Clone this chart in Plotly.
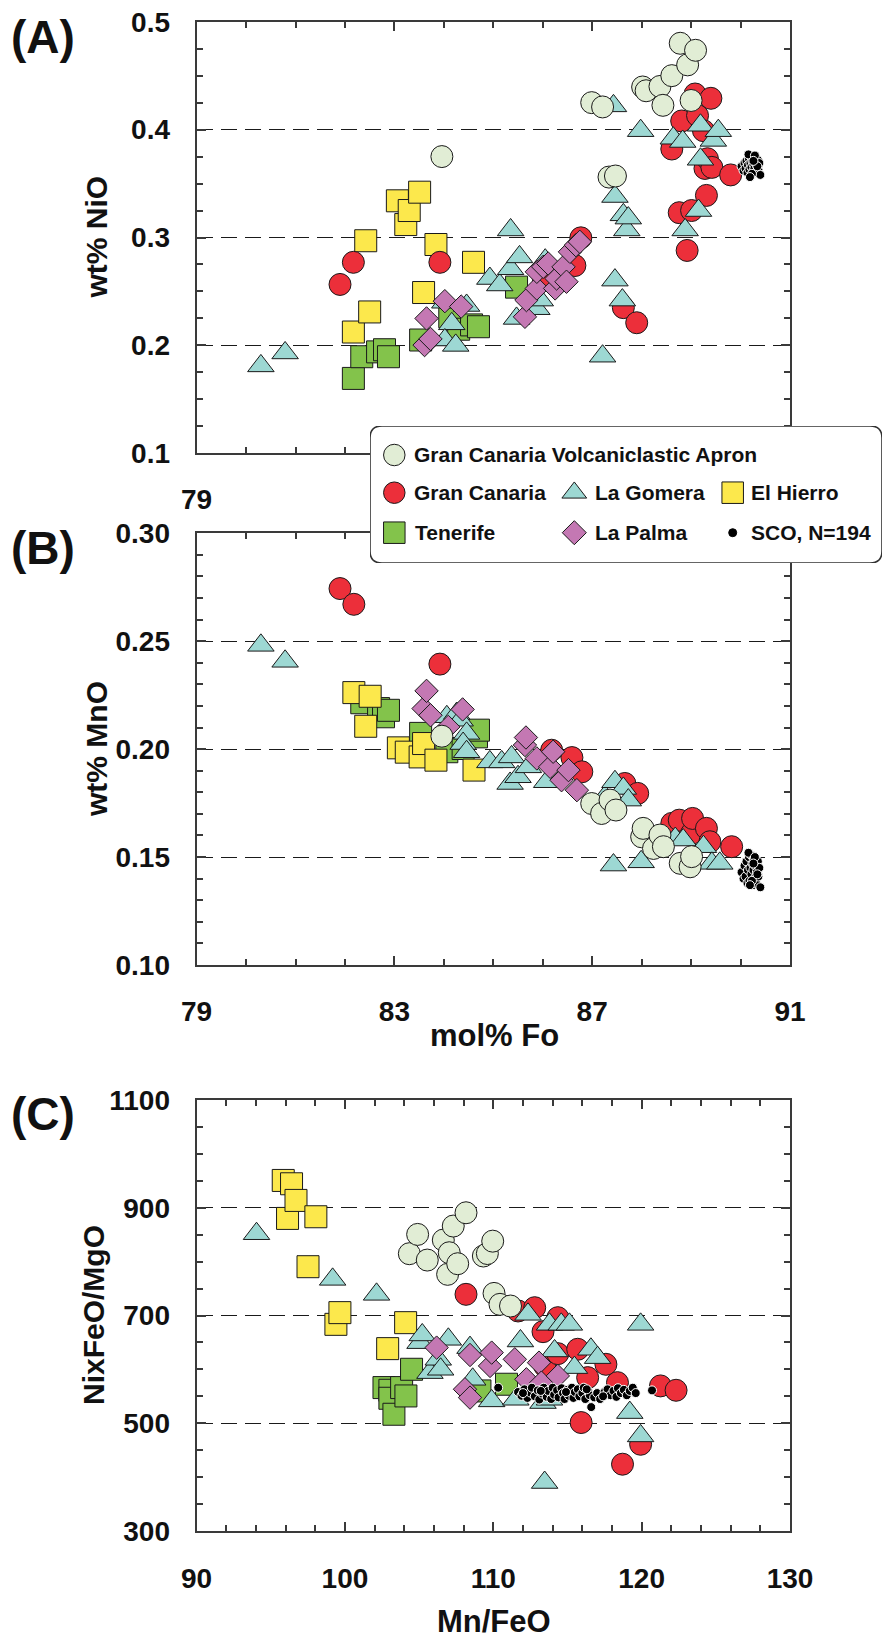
import plotly.graph_objects as go

# ---------------------------------------------------------------------------
# Olivine data, Canary Islands
# ---------------------------------------------------------------------------
ISLANDS = ["Gran Canaria Volcaniclastic Apron", "Gran Canaria", "La Gomera",
           "El Hierro", "Tenerife", "La Palma", "SCO, N=194"]

# (A) mol% Fo vs wt% NiO
gcva_fo_a = [83.96, 86.99, 87.21, 87.34, 87.47, 88.02, 88.09, 88.37, 88.43, 88.61, 88.78, 88.93, 89.00, 89.09]
gcva_nio = [0.375, 0.425, 0.421, 0.356, 0.357, 0.4395, 0.436, 0.440, 0.4225, 0.450, 0.480, 0.460, 0.427, 0.4735]

gc_fo_a = [81.90, 82.17, 83.92, 86.01, 86.65, 86.77, 87.63, 87.90, 88.61, 88.76, 88.81, 88.92, 89.01, 89.08,
           89.13, 89.25, 89.28, 89.31, 89.33, 89.40, 89.42, 89.80]
gc_nio = [0.2565, 0.277, 0.277, 0.262, 0.274, 0.2997, 0.235, 0.221, 0.382, 0.323, 0.408, 0.288, 0.325, 0.433,
          0.413, 0.399, 0.364, 0.339, 0.373, 0.429, 0.365, 0.358]

lg_fo_a = [80.30, 80.79, 84.02, 84.16, 84.02, 84.24, 84.46, 84.93, 85.13, 85.35, 85.35, 85.47, 85.53, 85.88,
           85.95, 86.05, 87.21, 87.43, 87.46, 87.46, 87.61, 87.63, 87.70, 87.73, 87.98, 88.64, 88.83, 88.88,
           89.15, 89.19, 89.19, 89.45, 89.55]
lg_nio = [0.181, 0.193, 0.240, 0.220, 0.205, 0.200, 0.237, 0.262, 0.256, 0.307, 0.271, 0.225, 0.282, 0.234,
          0.242, 0.279, 0.190, 0.422, 0.338, 0.2605, 0.242, 0.321, 0.307, 0.318, 0.399, 0.392, 0.389, 0.307,
          0.325, 0.404, 0.3725, 0.390, 0.399]

eh_fo_a = [82.17, 82.42, 82.50, 83.06, 83.23, 83.30, 83.51, 83.59, 83.84, 84.60]
eh_nio = [0.2124, 0.297, 0.231, 0.334, 0.312, 0.325, 0.342, 0.249, 0.2935, 0.277]

tf_fo_a = [82.17, 82.34, 82.66, 82.80, 82.88, 83.53, 84.12, 84.30, 84.56, 84.70, 85.47]
tf_nio = [0.1694, 0.1895, 0.194, 0.196, 0.1895, 0.205, 0.2265, 0.215, 0.219, 0.2173, 0.254]

lp_fo_a = [83.61, 83.65, 83.73, 84.02, 84.35, 85.64, 85.67, 85.88, 85.88, 86.01, 86.11, 86.25, 86.28, 86.42,
           86.48, 86.55, 86.67, 86.75]
lp_nio = [0.2003, 0.225, 0.206, 0.241, 0.236, 0.2265, 0.242, 0.2528, 0.2682, 0.2728, 0.2759, 0.2528, 0.262,
          0.2728, 0.259, 0.2867, 0.2929, 0.296]

sco_fo_a = [90.02, 90.06, 90.08, 90.10, 90.12, 90.14, 90.15, 90.17, 90.18, 90.20, 90.21, 90.22, 90.24, 90.25,
            90.26, 90.27, 90.28, 90.30, 90.31, 90.33, 90.35, 90.36, 90.38, 90.40, 90.16, 90.23, 90.29, 90.34,
            90.19, 90.26]
sco_nio = [0.366, 0.362, 0.369, 0.364, 0.371, 0.360, 0.367, 0.373, 0.363, 0.369, 0.375, 0.365, 0.371, 0.361,
           0.368, 0.374, 0.364, 0.370, 0.360, 0.367, 0.372, 0.363, 0.369, 0.358, 0.377, 0.359, 0.376, 0.366,
           0.356, 0.371]

# (B) mol% Fo vs wt% MnO
gcva_fo_b = [83.96, 86.99, 87.19, 87.36, 87.48, 88.00, 88.03, 88.24, 88.37, 88.44, 88.78, 88.98, 89.01]
gcva_mno = [0.206, 0.1748, 0.1702, 0.1764, 0.1718, 0.1594, 0.1633, 0.154, 0.1602, 0.1548, 0.1471, 0.1455, 0.1502]

gc_fo_b = [81.90, 82.18, 83.92, 86.18, 86.59, 86.79, 87.66, 87.92, 88.61, 88.76, 89.01, 89.03, 89.31, 89.38, 89.82]
gc_mno = [0.2744, 0.2671, 0.2394, 0.1995, 0.1961, 0.1895, 0.1841, 0.1795, 0.1656, 0.1671, 0.161, 0.1679, 0.1633,
          0.1571, 0.1548]

lg_fo_b = [80.30, 80.79, 84.06, 84.26, 84.33, 84.46, 84.39, 84.46, 84.93, 85.17, 85.34, 85.37, 85.50, 85.71,
           86.08, 87.26, 87.43, 87.46, 87.63, 87.73, 87.99, 88.68, 88.84, 89.25, 89.42, 89.58]
lg_mno = [0.2481, 0.2407, 0.215, 0.2165, 0.2134, 0.2073, 0.2026, 0.1988, 0.1941, 0.1941, 0.1841, 0.1964, 0.1872,
          0.1918, 0.1849, 0.178, 0.1463, 0.1849, 0.1818, 0.1764, 0.1478, 0.1586, 0.1579, 0.1548, 0.1471, 0.1471]

eh_fo_b = [82.18, 82.42, 82.51, 83.08, 83.24, 83.52, 83.59, 83.84, 84.61]
eh_mno = [0.2262, 0.2106, 0.2245, 0.2006, 0.1986, 0.1964, 0.2026, 0.1949, 0.1903]

tf_fo_b = [82.34, 82.68, 82.78, 82.88, 83.53, 84.06, 84.39, 84.66, 84.70]
tf_mno = [0.2215, 0.2188, 0.215, 0.218, 0.2073, 0.1988, 0.2003, 0.2057, 0.2088]

lp_fo_b = [83.59, 83.65, 83.73, 84.09, 84.38, 85.64, 85.66, 85.88, 86.15, 86.21, 86.38, 86.52, 86.69]
lp_mno = [0.2188, 0.227, 0.2157, 0.2103, 0.2184, 0.2019, 0.2054, 0.1957, 0.1918, 0.1988, 0.1856, 0.1903, 0.181]

sco_fo_b = [90.02, 90.06, 90.08, 90.10, 90.12, 90.14, 90.15, 90.17, 90.18, 90.20, 90.21, 90.22, 90.24, 90.25,
            90.26, 90.27, 90.28, 90.30, 90.31, 90.33, 90.35, 90.36, 90.38, 90.40, 90.16, 90.23, 90.29, 90.34,
            90.19, 90.26]
sco_mno = [0.143, 0.140, 0.146, 0.141, 0.148, 0.138, 0.144, 0.150, 0.139, 0.145, 0.151, 0.142, 0.147, 0.137,
           0.144, 0.149, 0.140, 0.146, 0.138, 0.143, 0.148, 0.141, 0.145, 0.136, 0.152, 0.139, 0.150, 0.142,
           0.137, 0.147]

# (C) Mn/FeO vs NixFeO/MgO
gcva_mnfe = [104.34, 104.90, 105.55, 106.63, 106.92, 107.03, 107.30, 107.60, 108.16, 109.33, 109.60, 109.96,
             110.05, 110.45, 111.16]
gcva_ni = [814.7, 850.5, 802.9, 840.0, 776.4, 816.5, 866.0, 796.1, 890.7, 810.4, 815.0, 838.0, 741.0, 720.7, 717.6]

gc_mnfe = [108.16, 111.67, 112.79, 113.35, 113.46, 114.35, 114.35, 115.69, 115.92, 116.36, 117.59, 118.37,
           118.71, 119.93, 121.27, 122.32]
gc_ni = [739.3, 708.4, 714.5, 670.0, 606.4, 696.0, 629.2, 637.3, 501.3, 584.7, 609.4, 575.4, 424.0, 461.0,
         569.3, 561.2]

lg_mnfe = [94.04, 99.17, 102.13, 105.06, 105.21, 105.73, 106.29, 106.45, 106.97, 108.43, 108.61, 109.89, 111.52,
           111.83, 112.34, 113.35, 113.46, 113.79, 113.79, 114.13, 114.58, 115.13, 115.47, 116.58, 117.03, 119.20,
           119.93, 119.93]
lg_ni = [851.8, 767.1, 739.3, 649.6, 663.9, 594.0, 618.7, 600.2, 655.8, 640.4, 581.6, 541.5, 544.5, 652.7,
         702.2, 538.4, 390.0, 683.6, 544.5, 634.2, 683.6, 683.6, 603.3, 637.3, 621.8, 519.8, 683.6, 476.5]

eh_mnfe = [95.84, 96.13, 96.40, 96.70, 97.51, 98.04, 99.39, 99.66, 102.88, 104.09]
eh_ni = [950.7, 880.2, 944.5, 913.6, 790.6, 883.3, 683.6, 705.3, 638.5, 686.7]

tf_mnfe = [102.63, 103.03, 103.03, 103.30, 103.82, 104.11, 104.49, 109.10, 110.89]
tf_ni = [566.2, 561.2, 546.4, 516.7, 566.2, 550.7, 600.2, 560.0, 572.4]

lp_mnfe = [106.18, 108.09, 108.43, 108.43, 109.78, 109.89, 111.45, 112.23, 113.08, 113.24, 114.35]
lp_ni = [640.4, 563.1, 547.6, 626.7, 606.4, 631.1, 618.7, 581.6, 612.5, 575.4, 587.8]

sco_mnfe = [110.33, 111.67, 111.90, 112.10, 112.30, 112.50, 112.60, 112.80, 113.00, 113.10, 113.30, 113.40,
            113.60, 113.70, 113.90, 114.00, 114.10, 114.30, 114.40, 114.60, 114.70, 114.80, 115.00, 115.10,
            115.30, 115.40, 115.50, 115.70, 115.80, 116.00, 116.10, 116.20, 116.40, 116.50, 116.60, 116.80,
            117.00, 117.20, 117.50, 117.70, 117.90, 118.10, 118.30, 118.40, 118.60, 118.80, 119.00, 119.20,
            119.40, 119.60, 120.70, 113.20, 114.90, 116.30, 112.00, 117.40]
sco_ni = [566, 558, 551, 563, 547, 557, 566, 550, 561, 544, 555, 566,
          549, 560, 545, 566, 553, 561, 548, 565, 556, 545, 562, 551,
          566, 547, 558, 563, 550, 556, 566, 545, 560, 552, 530, 548,
          556, 545, 558, 563, 552, 560, 549, 565, 556, 562, 552, 560,
          566, 556, 561, 560, 558, 563, 556, 550]

# tick labels
fo_ticks = [79, 83, 87, 91]
nio_ticks = [0.1, 0.2, 0.3, 0.4, 0.5]
mno_ticks = [0.10, 0.15, 0.20, 0.25, 0.30]
mnfe_ticks = [90, 100, 110, 120, 130]
ni_ticks = [300, 500, 700, 900, 1100]

# ---------------------------------------------------------------------------
# figure geometry and styles
# ---------------------------------------------------------------------------
W, H = 886, 1641
FONT = "Liberation Sans, Arial, Helvetica, sans-serif"
AXCOL = "#3a3a3a"

STYLE = {
    "Gran Canaria Volcaniclastic Apron": dict(symbol="circle", color="#E1EDD5", size=22, line="#1a1a1a"),
    "Gran Canaria": dict(symbol="circle", color="#EC2F3A", size=22, line="#1a1a1a"),
    "La Gomera": dict(symbol="triangle-up", color="#9DD8D3", size=23, line="#1a1a1a"),
    "El Hierro": dict(symbol="square", color="#FCE84C", size=22, line="#1a1a1a"),
    "Tenerife": dict(symbol="square", color="#83C34B", size=22, line="#1a1a1a"),
    "La Palma": dict(symbol="diamond", color="#C478B3", size=18, line="#1a1a1a"),
    "SCO, N=194": dict(symbol="circle", color="#000000", size=9, line="#ffffff"),
}

# drawing order, bottom to top
ORDER = ["Tenerife", "El Hierro", "Gran Canaria", "La Gomera", "La Palma",
         "Gran Canaria Volcaniclastic Apron", "SCO, N=194"]

PANELS = {
    "A": dict(ax="", data={
        "Gran Canaria Volcaniclastic Apron": (gcva_fo_a, gcva_nio),
        "Gran Canaria": (gc_fo_a, gc_nio),
        "La Gomera": (lg_fo_a, lg_nio),
        "El Hierro": (eh_fo_a, eh_nio),
        "Tenerife": (tf_fo_a, tf_nio),
        "La Palma": (lp_fo_a, lp_nio),
        "SCO, N=194": (sco_fo_a, sco_nio)}),
    "B": dict(ax="2", data={
        "Gran Canaria Volcaniclastic Apron": (gcva_fo_b, gcva_mno),
        "Gran Canaria": (gc_fo_b, gc_mno),
        "La Gomera": (lg_fo_b, lg_mno),
        "El Hierro": (eh_fo_b, eh_mno),
        "Tenerife": (tf_fo_b, tf_mno),
        "La Palma": (lp_fo_b, lp_mno),
        "SCO, N=194": (sco_fo_b, sco_mno)}),
    "C": dict(ax="3", data={
        "Gran Canaria Volcaniclastic Apron": (gcva_mnfe, gcva_ni),
        "Gran Canaria": (gc_mnfe, gc_ni),
        "La Gomera": (lg_mnfe, lg_ni),
        "El Hierro": (eh_mnfe, eh_ni),
        "Tenerife": (tf_mnfe, tf_ni),
        "La Palma": (lp_mnfe, lp_ni),
        "SCO, N=194": (sco_mnfe, sco_ni)}),
}


def xdom(left, right):
    return [left / W, right / W]


def ydom(top, bottom):
    return [1 - bottom / H, 1 - top / H]


fig = go.Figure()

for key, panel in PANELS.items():
    for name in ORDER:
        xs, ys = panel["data"][name]
        st = STYLE[name]
        fig.add_trace(go.Scatter(
            x=xs, y=ys, mode="markers", name=name, showlegend=False,
            xaxis="x" + panel["ax"], yaxis="y" + panel["ax"], cliponaxis=False,
            marker=dict(symbol=st["symbol"], size=st["size"], color=st["color"],
                        line=dict(color=st["line"], width=1)),
        ))

tickfont = dict(family=FONT, size=28, color="#111111", weight="bold")


def frame_axis(**kw):
    base = dict(showline=True, linewidth=2, linecolor=AXCOL, mirror="allticks",
                ticks="inside", ticklen=9, tickwidth=1.6, tickcolor=AXCOL, automargin=False,
                zeroline=False, showgrid=False, tickfont=tickfont, fixedrange=True)
    base.update(kw)
    return base


def grid_y(**kw):
    return frame_axis(showgrid=True, gridcolor="#1a1a1a", gridwidth=1.4,
                      griddash="16px,8px", ticklabelstandoff=19, **kw)


def minor(step, start):
    return dict(ticks="inside", ticklen=6, dtick=step, tick0=start, tickcolor=AXCOL, tickwidth=1.6)


fig.update_layout(
    template="none",
    width=W, height=H, margin=dict(l=0, r=0, t=0, b=0, pad=0), autosize=False,
    paper_bgcolor="white", plot_bgcolor="white", showlegend=False,
    # panel A: only the first Fo label is left in view; the legend box sits over the rest
    xaxis=frame_axis(domain=xdom(196.6, 790), anchor="y", range=[79, 91],
                     tickvals=fo_ticks, ticktext=[str(fo_ticks[0])] + [""] * (len(fo_ticks) - 1),
                     minor=minor(1, 79), ticklabelstandoff=20),
    yaxis=grid_y(domain=ydom(21.7, 453.3), anchor="x", range=[0.1, 0.5],
                 tickvals=nio_ticks, ticktext=["%.1f" % v for v in nio_ticks],
                 minor=minor(0.025, 0.1)),
    xaxis2=frame_axis(domain=xdom(196.6, 790), anchor="y2", range=[79, 91],
                      tickvals=fo_ticks, ticktext=[str(v) for v in fo_ticks],
                      minor=minor(1, 79), ticklabelstandoff=20),
    yaxis2=grid_y(domain=ydom(533.3, 965), anchor="x2", range=[0.10, 0.30],
                  tickvals=mno_ticks, ticktext=["%.2f" % v for v in mno_ticks],
                  minor=minor(0.01, 0.1)),
    xaxis3=frame_axis(domain=xdom(196.6, 790), anchor="y3", range=[90, 130],
                      tickvals=mnfe_ticks, ticktext=[str(v) for v in mnfe_ticks],
                      minor=minor(2, 90), ticklabelstandoff=21),
    yaxis3=grid_y(domain=ydom(1100, 1531), anchor="x3", range=[300, 1100],
                  tickvals=ni_ticks, ticktext=[str(v) for v in ni_ticks],
                  minor=minor(50, 300)),
)

# ---------------------------------------------------------------------------
# shared legend box (its own pixel-unit axes so it sits above panels A/B)
# ---------------------------------------------------------------------------
BOX_L, BOX_T, BOX_R, BOX_B = 370, 426, 882, 563
BW, BH = BOX_R - BOX_L, BOX_B - BOX_T
fig.update_layout(
    xaxis4=dict(domain=xdom(BOX_L, BOX_R), range=[0, BW], visible=False, fixedrange=True,
                anchor="y4", automargin=False),
    yaxis4=dict(domain=ydom(BOX_T, BOX_B), range=[0, BH], visible=False, fixedrange=True,
                anchor="x4", automargin=False),
)
r = 12
box_path = (f"M {r},0 L {BW - r},0 Q {BW},0 {BW},{r} L {BW},{BH - r} Q {BW},{BH} {BW - r},{BH} "
            f"L {r},{BH} Q 0,{BH} 0,{BH - r} L 0,{r} Q 0,0 {r},0 Z")
fig.add_shape(type="path", path=box_path, xref="x4", yref="y4", layer="below",
              fillcolor="white", line=dict(color="#333333", width=1.6))

# legend rows: (name, glyph x, text x, row y) in box pixel units
rows_y = [BOX_B - 455, BOX_B - 492.7, BOX_B - 532.7]
legend_items = [
    ("Gran Canaria Volcaniclastic Apron", 24.3, 41.7, rows_y[0]),
    ("Gran Canaria", 24.3, 41.7, rows_y[1]),
    ("La Gomera", 204.3, 223.0, rows_y[1]),
    ("El Hierro", 362.7, 379.0, rows_y[1]),
    ("Tenerife", 24.3, 42.7, rows_y[2]),
    ("La Palma", 204.3, 223.0, rows_y[2]),
    ("SCO, N=194", 362.7, 379.3, rows_y[2]),
]
for name, gx, tx, ry in legend_items:
    st = STYLE[name]
    size = {"La Palma": 18.5, "SCO, N=194": 8}.get(name, 21.5)
    fig.add_trace(go.Scatter(
        x=[gx], y=[ry], mode="markers", showlegend=False, hoverinfo="skip",
        xaxis="x4", yaxis="y4", cliponaxis=False,
        marker=dict(symbol=st["symbol"], size=size, color=st["color"],
                    line=dict(color="#1a1a1a" if name != "SCO, N=194" else "#000000", width=1)),
    ))
    fig.add_annotation(x=tx, y=ry, xref="x4", yref="y4", text=name, showarrow=False,
                       xanchor="left", yanchor="middle",
                       font=dict(family=FONT, size=21, color="#111111", weight="bold"))

# ---------------------------------------------------------------------------
# axis titles and panel letters
# ---------------------------------------------------------------------------
def paper_text(x, y, text, size, angle=0):
    fig.add_annotation(x=x / W, y=1 - y / H, xref="paper", yref="paper", text=text,
                       showarrow=False, xanchor="center", yanchor="middle", textangle=angle,
                       font=dict(family=FONT, size=size, color="#111111", weight="bold"))


paper_text(96, 237.5, "wt% NiO", 30, -90)
paper_text(96, 749, "wt% MnO", 30, -90)
paper_text(93, 1315, "NixFeO/MgO", 30, -90)
paper_text(494, 1035, "mol% Fo", 31)
paper_text(494, 1621, "Mn/FeO", 31)
paper_text(43, 37, "(A)", 46)
paper_text(43, 548, "(B)", 46)
paper_text(43, 1114, "(C)", 46)

fig.write_html("out.html")
